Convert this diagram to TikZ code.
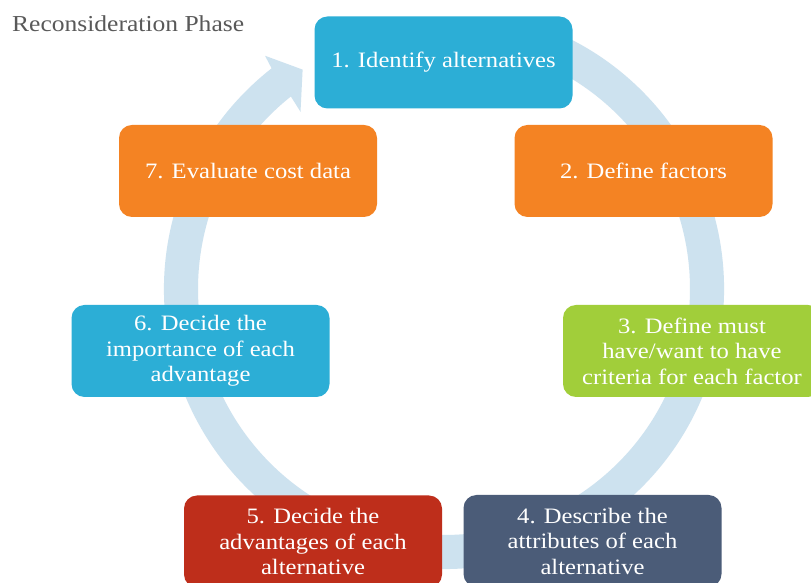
\documentclass[tikz,border=0pt]{standalone}
\usepackage{fontspec}
\setmainfont[FakeStretch=1.12]{Liberation Serif}
\definecolor{cblue}{RGB}{44,174,214}
\definecolor{corange}{RGB}{244,131,35}
\definecolor{cgreen}{RGB}{161,206,58}
\definecolor{cslate}{RGB}{75,92,120}
\definecolor{cred}{RGB}{190,46,27}
\definecolor{cring}{RGB}{205,226,239}
\definecolor{ctitle}{RGB}{89,89,89}
\begin{document}
\begin{tikzpicture}[x=1pt, y=1pt,
    stepbox/.style={rounded corners=13pt, minimum width=258pt, minimum height=92pt,
      inner sep=0pt, align=center, text=white, font=\fontsize{22}{25.5}\selectfont}]
  \clip (0,0) rectangle (811,583);
  \fill[white] (0,0) rectangle (811,583);
  \begin{scope}[shift={(444,294)}]
    \fill[cring] (75:280) arc[start angle=75, delta angle=-307, radius=280]
      -- (127.5:294) -- (122.8:261) -- (129:228) -- (128.5:246)
      arc[start angle=128.5, end angle=435, radius=246] -- cycle;
  \end{scope}
  \node[anchor=base west, inner sep=0pt, text=ctitle, font=\fontsize{22.8}{25}\selectfont] (title) at (12,551) {Reconsideration Phase};
  \node[stepbox, fill=cblue] (identify) at (443.5,520.5) {1. Identify alternatives};
  \node[stepbox, fill=corange] (factors) at (643.5,412) {2. Define factors};
  \node[stepbox, fill=cgreen] (criteria) at (692,232) {3. Define must\\have/want to have\\criteria for each factor};
  \node[stepbox, fill=cslate] (attributes) at (592.5,42) {4. Describe the\\attributes of each\\alternative};
  \node[stepbox, fill=cred] (advantages) at (313,41.5) {5. Decide the\\advantages of each\\alternative};
  \node[stepbox, fill=cblue] (importance) at (200.5,232) {6. Decide the\\importance of each\\advantage};
  \node[stepbox, fill=corange] (cost) at (248,412) {7. Evaluate cost data};
\end{tikzpicture}
\end{document}
